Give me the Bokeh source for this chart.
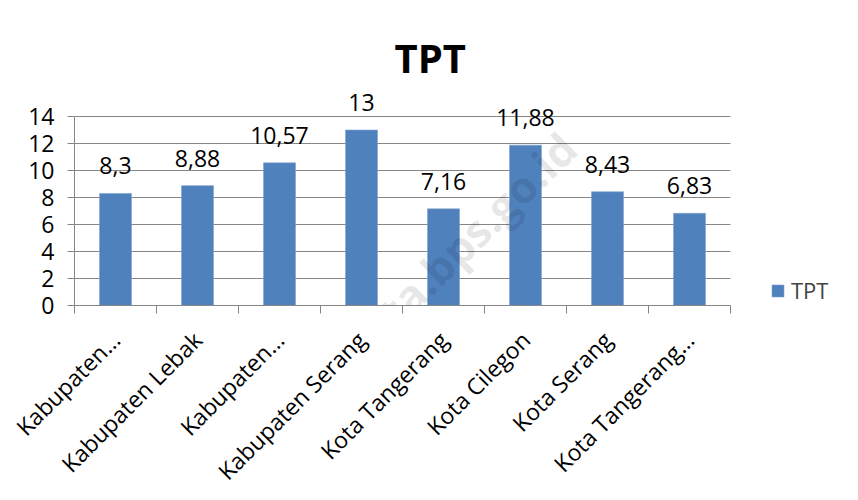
from bokeh.plotting import figure
from bokeh.models import (ColumnDataSource, FixedTicker, LabelSet, Label, Legend,
                          LegendItem, Range1d)
from bokeh.core.properties import value
from bokeh.embed import file_html
from bokeh.resources import INLINE

categories = ["Kabupaten…", "Kabupaten Lebak", "Kabupaten…", "Kabupaten Serang",
              "Kota Tangerang", "Kota Cilegon", "Kota Serang", "Kota Tangerang…"]
tpt = [8.3, 8.88, 10.57, 13, 7.16, 11.88, 8.43, 6.83]
y_ticks = [0, 2, 4, 6, 8, 10, 12, 14]
series_name = "TPT"
title_text = "TPT"
watermark_text = "serangkota.bps.go.id"

FONT = "Open Sans"
FS = "23px"
BAR = "#4F81BD"
GRID = "#868686"

n = len(categories)
x_pos = [i + 0.5 for i in range(n)]
labels = [f"{v:g}".replace(".", ",") for v in tpt]
src = ColumnDataSource(dict(x=x_pos, top=tpt, lab=labels))

p = figure(width=856, height=500, output_backend="svg", toolbar_location=None,
           x_range=Range1d(0, 776 / 82), y_range=Range1d(0, 15.78),
           min_border_left=74, min_border_right=6, min_border_top=92,
           min_border_bottom=195)
p.outline_line_color = None
p.background_fill_color = "white"
p.border_fill_color = "white"

# horizontal grid lines spanning the category area only
p.segment(x0=[0] * len(y_ticks), x1=[n] * len(y_ticks), y0=y_ticks, y1=y_ticks,
          line_color=GRID, line_width=1)

r = p.vbar(x="x", top="top", width=0.39, source=src, fill_color=BAR,
           line_color="#7FA3D0", line_width=0.6)

# x axis: ticks at category boundaries (minor), labels at centers (major)
p.xaxis.ticker = FixedTicker(ticks=x_pos, minor_ticks=list(range(n + 1)))
p.xaxis.bounds = (0, n)
p.xaxis.major_label_overrides = {x: c for x, c in zip(x_pos, categories)}
p.xaxis.major_tick_line_color = None
p.xaxis.minor_tick_out = 8
p.xaxis.minor_tick_in = 0
p.xaxis.minor_tick_line_color = GRID
p.xaxis.axis_line_color = GRID
p.xaxis.major_label_orientation = 0.785398
p.xaxis.major_label_text_font = FONT
p.xaxis.major_label_text_font_size = FS
p.xaxis.major_label_text_color = "black"
p.xaxis.major_label_standoff = 22

p.yaxis.ticker = FixedTicker(ticks=y_ticks, minor_ticks=[])
p.yaxis.bounds = (0, 14)
p.yaxis.axis_line_color = GRID
p.yaxis.major_tick_line_color = GRID
p.yaxis.major_tick_out = 7
p.yaxis.major_tick_in = 0
p.yaxis.major_label_text_font = FONT
p.yaxis.major_label_text_font_size = FS
p.yaxis.major_label_text_color = "black"
p.yaxis.major_label_standoff = 13

p.xgrid.grid_line_color = None
p.ygrid.grid_line_color = None

p.add_layout(LabelSet(x="x", y="top", text="lab", source=src, y_offset=19,
                      text_align="center", text_baseline="alphabetic",
                      text_font=value(FONT), text_font_size=value(FS),
                      text_color="black"))

p.title.text = title_text
p.title.text_font = FONT
p.title.text_font_style = "bold"
p.title.text_font_size = "40px"
p.title.align = "left"
p.title.offset = 320
p.title.standoff = 16
p.title.text_color = "black"

legend = Legend(items=[LegendItem(label=series_name, renderers=[r])],
                location=(696, 0), padding=0, margin=0, spacing=0,
                glyph_width=15, glyph_height=15, label_standoff=6,
                label_text_font=FONT, label_text_font_size="22px",
                label_height=22, border_line_color=None,
                background_fill_alpha=0)
p.add_layout(legend, "center")

wm = Label(x=330, y=6, x_units="screen", y_units="screen", text=watermark_text,
           angle=0.77, text_align="center", text_baseline="middle",
           text_font=FONT, text_font_style="bold", text_font_size="44px",
           text_color="black", text_alpha=0.1, level="overlay")
p.add_layout(wm)

open("out.html", "w").write(file_html(p, INLINE))
